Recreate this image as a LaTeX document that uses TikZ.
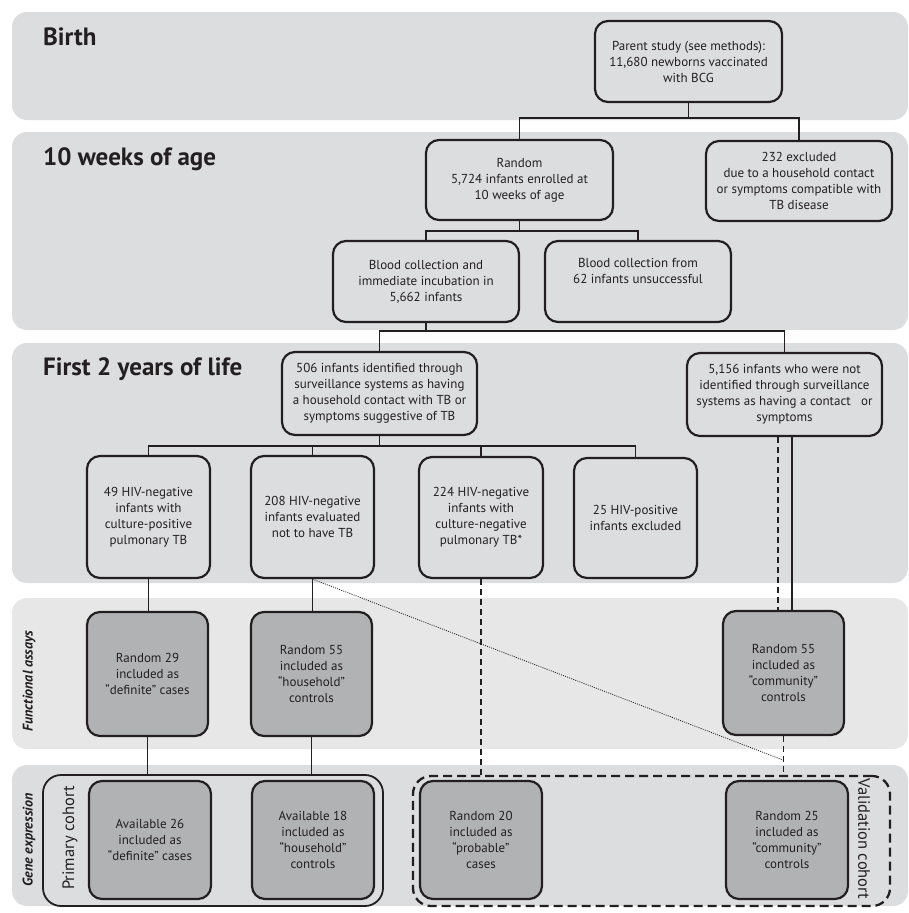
\documentclass[tikz,border=0pt]{standalone}
\usepackage{fontspec}
\setmainfont{PT Sans}
\usepackage{tikz}
\usetikzlibrary{calc}

\definecolor{bandgray}{HTML}{DCDDDF}
\definecolor{funcgray}{HTML}{E7E7E8}
\definecolor{boxgray}{HTML}{B1B2B4}
\definecolor{ink}{HTML}{231F20}

\begin{document}
\begin{tikzpicture}[x=1pt,y=-1pt,every text node part/.style={align=center}]
  \tikzstyle{box}=[draw=ink,line width=2.2pt,rounded corners=13pt,
    inner sep=2pt,text=ink,font=\fontsize{13}{16}\selectfont]
  \tikzstyle{darkbox}=[box,fill=boxgray]
  \tikzstyle{stage}=[anchor=base west,text=ink,inner sep=0pt,
    font=\fontsize{25}{28}\selectfont\bfseries]
  \tikzstyle{side}=[text=ink,inner sep=0pt,
    font=\fontsize{14}{16}\selectfont\bfseries\itshape]
  \tikzstyle{cohort}=[text=ink,inner sep=0pt,font=\fontsize{16.5}{18}\selectfont]
  \tikzstyle{link}=[draw=ink,line width=1.4pt]
  \tikzstyle{dlink}=[link,dash pattern=on 6pt off 4pt]

  \useasboundingbox (0,0) rectangle (909,913);

  % bands
  \fill[bandgray,rounded corners=15pt] (12,12) rectangle (908,120);
  \fill[bandgray,rounded corners=15pt] (12,132) rectangle (908,330);
  \fill[bandgray,rounded corners=15pt] (12,343) rectangle (908,583);
  \fill[funcgray,rounded corners=15pt] (12,598) rectangle (908,749);
  \fill[bandgray,rounded corners=15pt] (12,765) rectangle (908,906);

  \node[stage] (birth) at (43,45) {Birth};
  \node[stage] (weeks) at (43,165) {10 weeks of age};
  \node[stage] (life) at (43,375) {First 2 years of life};
  \node[side,rotate=90] (func) at (29,681) {Functional assays};
  \node[side,rotate=90] (gene) at (29,840) {Gene expression};

  % cohorts
  \node[draw=ink,line width=1.8pt,rounded corners=18pt,minimum width=340pt,
    minimum height=131pt] (primary) at (213,840.5) {};
  \node[draw=ink,line width=2.3pt,rounded corners=18pt,dash pattern=on 9pt off 5pt,
    minimum width=477pt,minimum height=130pt] (valid) at (651.5,841) {};
  \node[cohort,rotate=90] (primlabel) at (70,838) {Primary cohort};
  \node[cohort,rotate=-90] (validlabel) at (864,839) {Validation cohort};

  % boxes
  \node[box,minimum width=187pt,minimum height=81pt] (parent) at (688.5,61.5)
    {Parent study (see methods):\\11,680 newborns vaccinated\\with BCG};
  \node[box,minimum width=187pt,minimum height=80pt] (random) at (519.5,180)
    {Random\\5,724 infants enrolled at\\10 weeks of age};
  \node[box,minimum width=186pt,minimum height=80pt] (excl) at (799,181)
    {232 excluded\\due to a household contact\\or symptoms compatible with\\TB disease};
  \node[box,minimum width=186pt,minimum height=81pt] (bloodA) at (426,281.5)
    {Blood collection and\\immediate incubation in\\5,662 infants};
  \node[box,minimum width=186pt,minimum height=81pt] (bloodB) at (638,281.5)
    {Blood collection from\\62 infants unsuccessful\\\strut};
  \node[box,minimum width=195pt,minimum height=83pt] (susp) at (379.5,393.5)
    {506 infants identified through\\surveillance systems as having\\a household contact with TB or\\symptoms suggestive of TB};
  \node[box,minimum width=195pt,minimum height=83pt] (nonsusp) at (784.5,394.5)
    {5,156 infants who were not\\identified through surveillance\\systems as having a contact~~ or\\symptoms};
  \node[box,minimum width=123pt,minimum height=122pt] (culpos) at (148.5,517)
    {49 HIV-negative\\infants with\\culture-positive\\pulmonary TB};
  \node[box,minimum width=123pt,minimum height=122pt] (notb) at (312.5,517)
    {208 HIV-negative\\infants evaluated\\not to have TB};
  \node[box,minimum width=124pt,minimum height=121pt] (culneg) at (481,517.5)
    {224 HIV-negative\\infants with\\culture-negative\\pulmonary TB*};
  \node[box,minimum width=123pt,minimum height=120pt] (hivpos) at (635.5,518)
    {25 HIV-positive\\infants excluded};

  \node[darkbox,minimum width=121pt,minimum height=124pt] (fdef) at (147.5,674)
    {Random 29\\included as\\``definite'' cases};
  \node[darkbox,minimum width=121pt,minimum height=124pt] (fhouse) at (311.5,674)
    {Random 55\\included as\\``household''\\controls};
  \node[darkbox,minimum width=121pt,minimum height=124pt] (fcomm) at (783.5,673)
    {Random 55\\included as\\``community''\\controls};

  \node[darkbox,minimum width=122pt,minimum height=118pt] (gdef) at (150,840)
    {Available 26\\included as\\``definite'' cases};
  \node[darkbox,minimum width=122pt,minimum height=118pt] (ghouse) at (313,840)
    {Available 18\\included as\\``household''\\controls};
  \node[darkbox,minimum width=122pt,minimum height=118pt] (gprob) at (481,840)
    {Random 20\\included as\\``probable''\\cases};
  \node[darkbox,minimum width=122pt,minimum height=118pt] (gcomm) at (787,840)
    {Random 25\\included as\\``community''\\controls};

  % connectors
  \draw[link] (parent.south) -- (parent.south |- 0,118);
  \draw[link] (random.north) |- (excl.north |- 0,118) -- (excl.north);
  \draw[link] (random.south) -- (random.south |- 0,231);
  \draw[link] (bloodA.north) |- (bloodB.north |- 0,231) -- (bloodB.north);
  \draw[link] (bloodA.south) -- (bloodA.south |- 0,331);
  \draw[link] (susp.north) |- (nonsusp.north |- 0,331) -- (nonsusp.north);
  \draw[link] (susp.south) -- (susp.south |- 0,446);
  \draw[link] (culpos.north) |- (hivpos.north |- 0,446) -- (hivpos.north);
  \draw[link] (notb.north) -- (notb.north |- 0,446);
  \draw[link] (culneg.north) -- (culneg.north |- 0,446);

  \draw[link] (culpos.south) -- (culpos.south |- fdef.north);
  \draw[link] (notb.south) -- (notb.south |- fhouse.north);
  \draw[link] (fdef.south) -- (fdef.south |- primary.north);
  \draw[link] (fhouse.south) -- (fhouse.south |- primary.north);
  \draw[dlink] (culneg.south) -- (culneg.south |- valid.north);
  \draw[dlink] ([xshift=-6.5pt]nonsusp.south) -- ([xshift=-5.5pt]fcomm.north);
  \draw[link] ([xshift=7.5pt]nonsusp.south) -- ([xshift=8.5pt]fcomm.north);
  \draw[dlink] (fcomm.south) -- (fcomm.south |- valid.north);
  \coordinate (dotend) at (783,760);
  \draw[draw=ink,line width=0.8pt,dash pattern=on 1pt off 1.2pt] (notb.south) -- (dotend);
\end{tikzpicture}
\end{document}
